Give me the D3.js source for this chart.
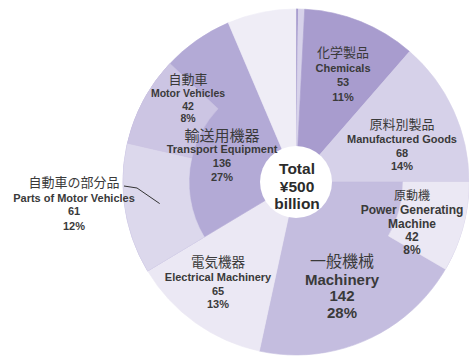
<!DOCTYPE html>
<html>
<head>
<meta charset="utf-8">
<script src="https://cdn.jsdelivr.net/npm/d3@7/dist/d3.min.js"></script>
<style>
  html, body { margin: 0; padding: 0; background: #ffffff; }
  svg { display: block; }
</style>
</head>
<body>
<script>
// Export breakdown, ¥ billion, clockwise from 12 o'clock
const categoriesJa = ["食料品", "原料品", "化学製品", "原料別製品", "一般機械", "電気機器", "輸送用機器", "その他"];
const categoriesEn = ["Foodstuffs", "Raw Materials", "Chemicals", "Manufactured Goods", "Machinery", "Electrical Machinery", "Transport Equipment", "Others"];
const mainValues   = [1, 3, 53, 68, 142, 65, 136, 32];

// Sub-items drawn in the outer ring, placed at the start of their parent slice
const subJa     = ["原動機", "自動車の部分品", "自動車"];
const subEn     = ["Power Generating Machine", "Parts of Motor Vehicles", "Motor Vehicles"];
const subValues = [42, 61, 42];
const subParent = ["Machinery", "Transport Equipment", "Transport Equipment"];

const totalLabel = ["Total", "¥500", "billion"];

// ---- layout & style ----
const W = 469, H = 357;
const cx = 296, cy = 182;
const R = 173, R1 = 107, RH = 36;

const mainColors = {
  "Foodstuffs": "#9c8fc8",
  "Raw Materials": "#d7d2ea",
  "Chemicals": "#a89cce",
  "Manufactured Goods": "#d6d1e9",
  "Machinery": "#c4bddf",
  "Electrical Machinery": "#ebe8f4",
  "Transport Equipment": "#b3aad6",
  "Others": "#efedf6"
};
const subColors = {
  "Power Generating Machine": "#ebe8f4",
  "Parts of Motor Vehicles": "#dcd8ec",
  "Motor Vehicles": "#ccc5e3"
};

// label placement relative to the centre: x, line centres, font sizes
const labelLayout = {
  "Chemicals":                { x: 47,   ys: [-131, -114, -100, -85], ja: 13, en: 11 },
  "Manufactured Goods":       { x: 106,  ys: [-59, -43, -29, -16],    ja: 13, en: 11 },
  "Machinery":                { x: 46,   ys: [78, 97, 113, 130],      ja: 16, en: 15 },
  "Electrical Machinery":     { x: -78,  ys: [79, 95, 109, 122],      ja: 13.5, en: 11 },
  "Transport Equipment":      { x: -74,  ys: [-48, -33, -19, -5],     ja: 15, en: 11 },
  "Power Generating Machine": { x: 116,  ys: [12, 28, 42, 55, 68],    ja: 12, en: 12, split: ["Power Generating", "Machine"] },
  "Motor Vehicles":           { x: -108, ys: [-104, -89, -76, -64],   ja: 13, en: 10.5 },
  "Parts of Motor Vehicles":  { x: -222, ys: [-1, 16, 29, 44],        ja: 13, en: 11 }
};

const TEXT = "#3a3a3a";
const JA_FONT = "'Noto Sans CJK JP', sans-serif";
const EN_FONT = "'Liberation Sans', Arial, sans-serif";

const svg = d3.select("body").append("svg")
  .attr("width", W).attr("height", H)
  .attr("viewBox", `0 0 ${W} ${H}`);

const g = svg.append("g").attr("transform", `translate(${cx},${cy})`);

const total = d3.sum(mainValues);
const mainData = categoriesEn.map((en, i) => ({ en, ja: categoriesJa[i], value: mainValues[i] }));
const arcsMain = d3.pie().sort(null).value(d => d.value)(mainData);

const angle = d3.scaleLinear().domain([0, total]).range([0, 2 * Math.PI]);

// main slices, full radius
const arcFull = d3.arc().innerRadius(0).outerRadius(R);
g.selectAll("path.main").data(arcsMain).join("path")
  .attr("class", "main")
  .attr("d", arcFull)
  .attr("fill", d => mainColors[d.data.en])
  .attr("stroke", d => mainColors[d.data.en])
  .attr("stroke-width", 0.6);

// outer-ring sub-items
const used = {};
const subArcs = subEn.map((en, i) => {
  const parent = arcsMain.find(a => a.data.en === subParent[i]);
  const offset = used[subParent[i]] || 0;
  used[subParent[i]] = offset + subValues[i];
  return {
    en, ja: subJa[i], value: subValues[i],
    startAngle: parent.startAngle + angle(offset),
    endAngle: parent.startAngle + angle(offset + subValues[i])
  };
});
const arcOuter = d3.arc().innerRadius(R1).outerRadius(R);
g.selectAll("path.sub").data(subArcs).join("path")
  .attr("class", "sub")
  .attr("d", arcOuter)
  .attr("fill", d => subColors[d.en])
  .attr("stroke", d => subColors[d.en])
  .attr("stroke-width", 0.6);

// centre disc
g.append("circle").attr("r", RH).attr("fill", "#ffffff");
const tl = g.append("g").attr("class", "total");
[-14, 4, 21].forEach((y, i) => {
  tl.append("text")
    .attr("x", 1).attr("y", y)
    .attr("text-anchor", "middle").attr("dominant-baseline", "central")
    .attr("font-family", EN_FONT).attr("font-weight", "bold")
    .attr("font-size", 15.5).attr("fill", "#2b2b2b")
    .text(totalLabel[i]);
});

// slice labels
const pct = v => Math.round(v / total * 100) + "%";
const labelItems = [];
arcsMain.forEach(a => { if (labelLayout[a.data.en]) labelItems.push({ en: a.data.en, ja: a.data.ja, value: a.data.value }); });
subArcs.forEach(a => labelItems.push({ en: a.en, ja: a.ja, value: a.value }));

labelItems.forEach(item => {
  const L = labelLayout[item.en];
  const lines = [{ t: item.ja, ja: true }]
    .concat((L.split || [item.en]).map(t => ({ t })))
    .concat([{ t: String(item.value) }, { t: pct(item.value) }]);
  const lg = g.append("g").attr("class", "label");
  lines.forEach((ln, i) => {
    lg.append("text")
      .attr("x", L.x).attr("y", L.ys[i])
      .attr("text-anchor", "middle").attr("dominant-baseline", "central")
      .attr("font-family", ln.ja ? JA_FONT : EN_FONT)
      .attr("font-weight", ln.ja ? "normal" : "bold")
      .attr("font-size", ln.ja ? L.ja : L.en)
      .attr("fill", TEXT)
      .text(ln.t);
  });
});

// leader line for the parts label
const parts = subArcs.find(d => d.en === "Parts of Motor Vehicles");
const tip = d3.arc().innerRadius(138).outerRadius(138).centroid(parts);
g.append("path")
  .attr("d", d3.line()([[-172, 4], [-159, 6], tip]))
  .attr("fill", "none").attr("stroke", "#333").attr("stroke-width", 1);
</script>
</body>
</html>
